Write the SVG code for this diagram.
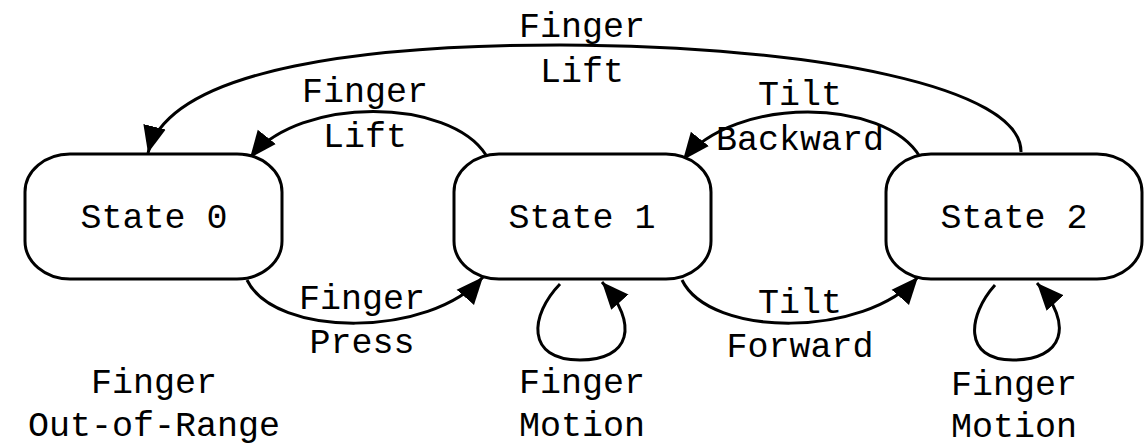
<svg xmlns="http://www.w3.org/2000/svg" width="1145" height="446" viewBox="0 0 1145 446">
<style>
.node rect{fill:#fff;stroke:#000;stroke-width:3}
text{font-family:"Liberation Mono","DejaVu Sans Mono",monospace;font-size:35px;fill:#000;text-anchor:middle}
.edge{fill:none;stroke:#000;stroke-width:3}
</style>
<defs>
<marker id="ah" markerUnits="userSpaceOnUse" markerWidth="28" markerHeight="25" refX="27" refY="12.5" orient="auto" viewBox="0 0 28 25">
<path d="M0,1 L27,12.5 L0,24 z" fill="#000"/>
</marker>
</defs>
<rect width="1145" height="446" fill="#fff"/>
<g id="connectors">
<path class="edge" d="M1021,152 C1022,88 820,46 560,45 C380,45 170,65 148,153" marker-end="url(#ah)"/>
<path class="edge" d="M486,155 C450,98 300,95 250,158" marker-end="url(#ah)"/>
<path class="edge" d="M920,157 C885,98 735,95 683,160" marker-end="url(#ah)"/>
<path class="edge" d="M247,280 C275,338 430,338 483,277" marker-end="url(#ah)"/>
<path class="edge" d="M682,280 C710,338 865,338 918,277" marker-end="url(#ah)"/>
<path class="edge" d="M560,284 C530,315 525,360 580,360 C630,360 640,325 602,282" marker-end="url(#ah)"/>
<path class="edge" d="M995,285 C968,315 962,360 1013,360 C1063,360 1075,325 1037,283" marker-end="url(#ah)"/>
<g id="edge-labels">
<text x="582" y="37">Finger</text>
<text x="582" y="82">Lift</text>
<text x="365" y="102">Finger</text>
<text x="365" y="147">Lift</text>
<text x="800" y="105">Tilt</text>
<text x="800" y="150">Backward</text>
<text x="362" y="309">Finger</text>
<text x="362" y="353">Press</text>
<text x="800" y="313">Tilt</text>
<text x="800" y="357">Forward</text>
<text x="582" y="393">Finger</text>
<text x="582" y="436">Motion</text>
<text x="1014" y="395">Finger</text>
<text x="1014" y="437">Motion</text>
</g>
</g>
<g id="state0" class="node">
<rect x="25" y="154" width="257" height="125" rx="45" ry="38"/>
<text x="154" y="228">State 0</text>
<text x="154" y="393">Finger</text>
<text x="154" y="436">Out-of-Range</text>
</g>
<g id="state1" class="node">
<rect x="454" y="154" width="257" height="125" rx="45" ry="38"/>
<text x="582" y="228">State 1</text>
</g>
<g id="state2" class="node">
<rect x="886" y="154" width="256" height="125" rx="45" ry="38"/>
<text x="1014" y="228">State 2</text>
</g>
</svg>
